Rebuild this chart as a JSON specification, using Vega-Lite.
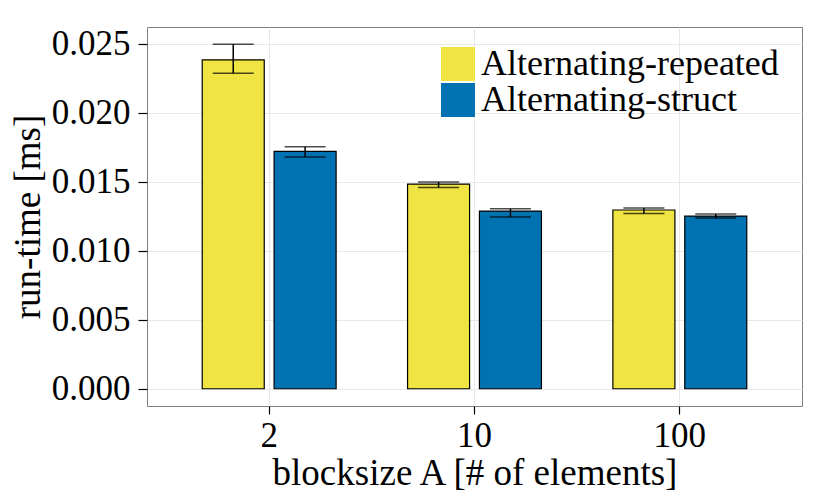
{
  "$schema": "https://vega.github.io/schema/vega-lite/v6.json",
  "width": 655,
  "height": 379,
  "autosize": "none",
  "padding": {"left": 147, "top": 27, "right": 28, "bottom": 92},
  "background": "white",
  "config": {
    "font": "Liberation Serif",
    "view": {"stroke": "#7f7f7f", "strokeWidth": 1},
    "axis": {
      "domain": false,
      "labelFont": "Liberation Serif",
      "titleFont": "Liberation Serif",
      "labelColor": "black",
      "titleColor": "black",
      "titleFontWeight": "normal",
      "tickColor": "black",
      "tickWidth": 1.2
    }
  },
  "data": {
    "values": [
      {"block": "2", "impl": "Alternating-repeated", "time": 0.02383, "lo": 0.02286, "hi": 0.02496},
      {"block": "2", "impl": "Alternating-struct", "time": 0.01720, "lo": 0.01679, "hi": 0.01754},
      {"block": "10", "impl": "Alternating-repeated", "time": 0.01483, "lo": 0.01459, "hi": 0.01498},
      {"block": "10", "impl": "Alternating-struct", "time": 0.01287, "lo": 0.01244, "hi": 0.01304},
      {"block": "100", "impl": "Alternating-repeated", "time": 0.01295, "lo": 0.01270, "hi": 0.01309},
      {"block": "100", "impl": "Alternating-struct", "time": 0.01251, "lo": 0.01237, "hi": 0.01266}
    ]
  },
  "encoding": {
    "x": {
      "field": "block",
      "type": "nominal",
      "sort": ["2", "10", "100"],
      "scale": {"paddingInner": 0.3, "paddingOuter": 0.245},
      "axis": {
        "title": "blocksize A [# of elements]",
        "titleFontSize": 37,
        "titlePadding": 2,
        "labelFontSize": 35,
        "labelAngle": 0,
        "labelPadding": 4,
        "tickSize": 8,
        "grid": true,
        "gridColor": "#e8e8e8"
      }
    },
    "xOffset": {
      "field": "impl",
      "type": "nominal",
      "scale": {"paddingInner": 0.137, "paddingOuter": 0.0685}
    }
  },
  "layer": [
    {
      "mark": {"type": "bar", "stroke": "black", "strokeWidth": 1.2},
      "encoding": {
        "y": {
          "field": "time",
          "type": "quantitative",
          "scale": {"domain": [-0.00125, 0.02621], "nice": false, "zero": false},
          "axis": {
            "title": "run-time [ms]",
            "titleFontSize": 37,
            "titlePadding": 4,
            "labelFontSize": 35,
            "labelPadding": 8,
            "tickSize": 9,
            "format": ".3f",
            "values": [0, 0.0025, 0.005, 0.0075, 0.01, 0.0125, 0.015, 0.0175, 0.02, 0.0225, 0.025],
            "labelExpr": "round(datum.value * 2000) % 10 == 0 ? datum.label : ''",
            "tickColor": {"condition": {"test": "round(datum.value * 2000) % 10 != 0", "value": "transparent"}, "value": "black"},
            "grid": true,
            "gridColor": {"condition": {"test": "round(datum.value * 2000) % 10 != 0", "value": "#f5f5f5"}, "value": "#e8e8e8"}
          }
        },
        "color": {
          "field": "impl",
          "type": "nominal",
          "scale": {"domain": ["Alternating-repeated", "Alternating-struct"], "range": ["#F0E442", "#0072B2"]},
          "legend": {
            "title": null,
            "orient": "none",
            "legendX": 293,
            "legendY": 19,
            "padding": 0,
            "symbolType": "square",
            "symbolSize": 1156,
            "symbolStrokeWidth": 0,
            "symbolOpacity": 1,
            "rowPadding": 0,
            "labelOffset": 5,
            "labelFontSize": 36,
            "labelFont": "Liberation Serif",
            "labelColor": "black",
            "labelLimit": 0
          }
        }
      }
    },
    {
      "mark": {"type": "rule", "color": "black", "strokeWidth": 1.5},
      "encoding": {
        "y": {"field": "lo", "type": "quantitative"},
        "y2": {"field": "hi"}
      }
    },
    {
      "mark": {"type": "tick", "color": "black", "thickness": 1.5, "size": 41, "orient": "horizontal"},
      "encoding": {
        "y": {"field": "lo", "type": "quantitative"}
      }
    },
    {
      "mark": {"type": "tick", "color": "black", "thickness": 1.5, "size": 41, "orient": "horizontal"},
      "encoding": {
        "y": {"field": "hi", "type": "quantitative"}
      }
    }
  ]
}
